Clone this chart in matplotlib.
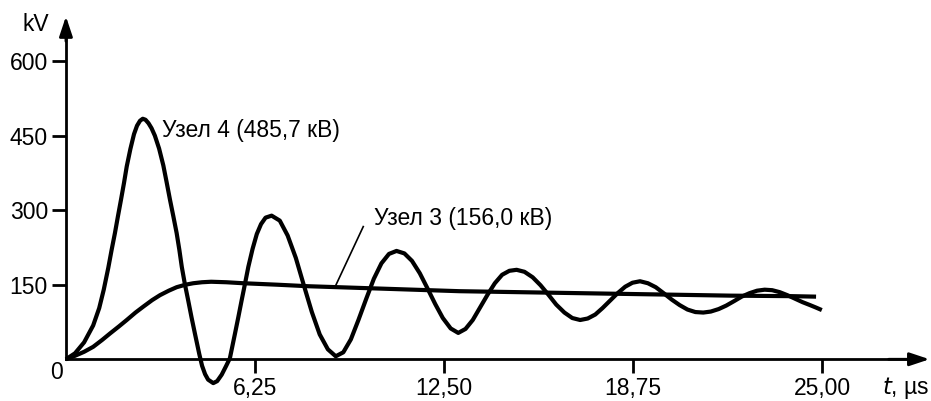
import matplotlib
matplotlib.use("Agg")
import matplotlib.pyplot as plt

plt.rcParams["font.family"] = ["Liberation Sans", "DejaVu Sans"]

# Узел 4 — затухающие колебания
t_node4 = [0, 0.3, 0.6, 0.9, 1.1, 1.25, 1.4, 1.51, 1.62, 1.72, 1.82,
           1.92, 2.01, 2.13, 2.25, 2.35, 2.45, 2.54, 2.63, 2.73, 2.83, 2.94,
           3.08, 3.22, 3.33, 3.44, 3.55, 3.66, 3.75, 3.83, 3.93, 4.04, 4.15,
           4.27, 4.41, 4.5, 4.6, 4.7, 4.87, 5.0, 5.15, 5.3, 5.42, 5.59, 5.7,
           5.81, 5.92, 6.03, 6.17, 6.31, 6.45, 6.6, 6.8, 7.07, 7.33, 7.6, 7.86,
           8.13, 8.39, 8.66, 8.92, 9.17, 9.42, 9.67, 9.93, 10.18, 10.43, 10.68,
           10.93, 11.19, 11.44, 11.7, 11.95, 12.21, 12.46, 12.72, 12.97, 13.21,
           13.45, 13.69, 13.94, 14.18, 14.42, 14.66, 14.9, 15.16, 15.43, 15.69,
           15.95, 16.21, 16.48, 16.74, 17.0, 17.25, 17.5, 17.74, 17.99, 18.24,
           18.49, 18.73, 18.98, 19.24, 19.5, 19.76, 20.03, 20.29, 20.55, 20.81,
           21.07, 21.32, 21.58, 21.83, 22.09, 22.34, 22.6, 22.85, 23.1, 23.35,
           23.6, 23.85, 24.1, 24.35, 24.6, 24.8, 24.99]
v_node4 = [0, 12, 34, 68, 103, 140, 184, 220, 254, 288, 321,
           355, 388, 423, 453, 470, 480, 484, 482, 475, 465, 450,
           424, 390, 356, 321, 288, 254, 220, 186, 152, 119, 85,
           50, 10, -13, -30, -41, -48, -44, -31, -13, 2, 52, 85,
           119, 152, 186, 222, 252, 272, 285, 289, 279, 249, 204, 150,
           95, 50, 20, 6, 14, 40, 79, 122, 162, 193, 212,
           218, 213, 198, 173, 143, 111, 83, 62, 53, 61,
           79, 104, 130, 153, 170, 178, 180, 176, 165, 149,
           130, 110, 94, 83, 79, 82, 90, 103, 118, 133,
           146, 154, 157, 153, 145, 133, 120, 109, 100, 95,
           94, 96, 101, 108, 117, 126, 133, 138, 140, 139,
           135, 129, 122, 115, 109, 104, 99]

# Узел 3 — плавный подъём и медленный спад
t_node3 = [0, 0.3, 0.6, 0.9, 1.2, 1.46, 1.75, 2.01, 2.3, 2.56, 2.85, 3.11,
           3.4, 3.66, 3.95, 4.21, 4.5, 4.8, 5.3, 5.86, 7, 8, 9, 10, 11, 12,
           13, 14, 16, 18, 20, 22, 24, 24.8]
v_node3 = [0, 7, 15, 25, 39, 52, 66, 79, 94, 106, 119, 129,
           138, 145, 150, 153, 155, 156, 155, 153, 150, 147, 145, 143, 141, 139,
           137, 136, 134, 132, 130, 128, 127, 126]

x_ticks = [6.25, 12.5, 18.75, 25.0]
x_labels = ["6,25", "12,50", "18,75", "25,00"]
y_ticks = [150, 300, 450, 600]
y_labels = ["150", "300", "450", "600"]

FS = 16.5

fig = plt.figure(figsize=(9.31, 4.01), dpi=100)
ax = fig.add_axes([0, 0, 1, 1])
ax.set_xlim(-2.18, 28.6)
ax.set_ylim(-84, 723)

for t, v in [(t_node4, v_node4), (t_node3, v_node3)]:
    ax.plot(t, v, color="black", lw=3, solid_capstyle="butt",
            solid_joinstyle="round")

# оси со стрелками
for s in ["top", "right"]:
    ax.spines[s].set_visible(False)
ax.spines["left"].set_position(("data", 0))
ax.spines["bottom"].set_position(("data", 0))
ax.spines["left"].set_bounds(0, 675)
ax.spines["bottom"].set_bounds(0, 28.2)
ax.spines["left"].set_linewidth(2)
ax.spines["bottom"].set_linewidth(2)
head = "-|>,head_length=0.6,head_width=0.2"
ax.annotate("", xy=(0, 690), xytext=(0, 640),
            arrowprops=dict(arrowstyle=head, color="black", lw=2,
                            mutation_scale=20, shrinkA=0, shrinkB=0))
ax.annotate("", xy=(28.55, 0), xytext=(27.2, 0),
            arrowprops=dict(arrowstyle=head, color="black", lw=2,
                            mutation_scale=20, shrinkA=0, shrinkB=0))

ax.set_xticks(x_ticks)
ax.set_xticklabels(x_labels, fontsize=FS)
ax.set_yticks(y_ticks)
ax.set_yticklabels(y_labels, fontsize=FS)
ax.tick_params(axis="both", direction="out", length=10, width=2, pad=3)

ax.text(-0.3, -27, "0", fontsize=FS, ha="center", va="center")
ax.text(-1.0, 673, "kV", fontsize=FS, ha="center", va="center")
ax.text(27.78, -57, r"$t$, µs", fontsize=FS, ha="center", va="center")

ax.text(3.17, 460, "Узел 4 (485,7 кВ)", fontsize=FS, ha="left", va="center")
ax.text(10.19, 284, "Узел 3 (156,0 кВ)", fontsize=FS, ha="left", va="center")
ax.plot([9.83, 8.9], [267, 146], color="black", lw=1.2)

fig.savefig("out.png", dpi=100)
